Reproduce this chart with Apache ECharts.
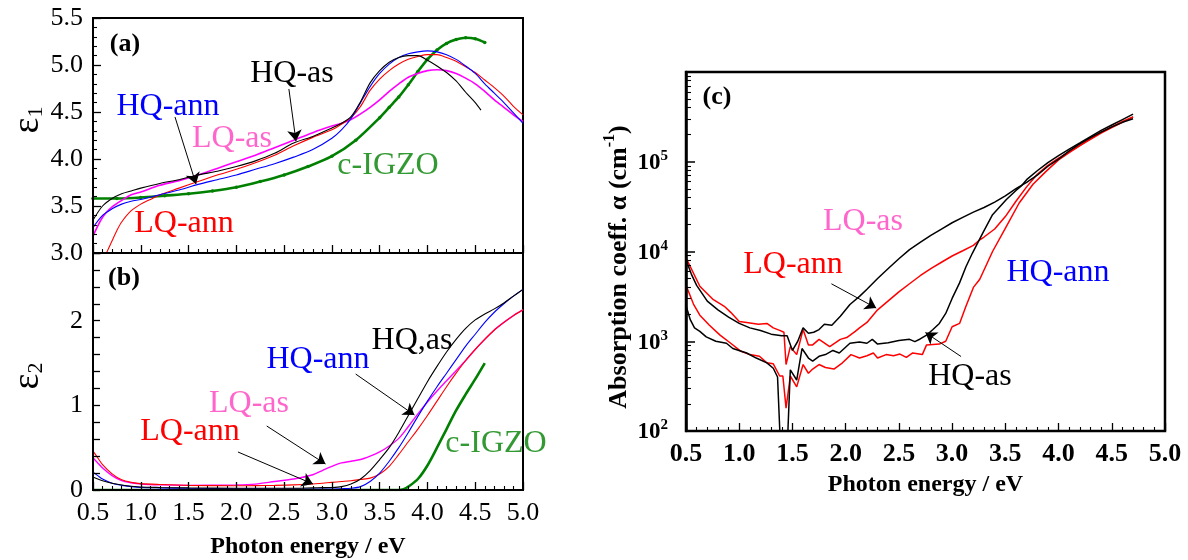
<!DOCTYPE html>
<html><head><meta charset="utf-8">
<script src="https://cdn.jsdelivr.net/npm/echarts@6/dist/echarts.min.js"></script>
<style>html,body{margin:0;padding:0;background:#fff}#c{width:1188px;height:560px}</style>
</head><body><div id="c"></div>
<script>
// ---------- Panel (a): eps1 vs photon energy ----------
const a_E = [0.5,0.6,0.7,0.8,0.9,1.0,1.2,1.4,1.6,1.8,2.0,2.2,2.4,2.6,2.8,3.0,3.1,3.2,3.3,3.4,3.5,3.6,3.7,3.8,3.9,4.0,4.1,4.2,4.3,4.4,4.5,4.6,4.7,4.8,4.9,5.0];
const a_HQas_E = [0.5,0.6,0.7,0.8,0.9,1.0,1.2,1.4,1.6,1.8,2.0,2.2,2.4,2.6,2.8,3.0,3.1,3.2,3.3,3.4,3.5,3.6,3.7,3.8,3.9,4.0,4.1,4.2,4.3,4.4,4.5,4.56];
const a_HQas = [3.35,3.50,3.58,3.63,3.66,3.69,3.74,3.78,3.83,3.87,3.92,3.98,4.06,4.17,4.24,4.33,4.38,4.45,4.61,4.81,4.94,5.03,5.08,5.10,5.10,5.05,4.99,4.92,4.83,4.71,4.60,4.52];
const a_HQann = [3.27,3.40,3.47,3.52,3.55,3.57,3.62,3.67,3.73,3.78,3.83,3.89,3.95,4.02,4.10,4.22,4.31,4.43,4.60,4.77,4.91,5.01,5.08,5.12,5.14,5.15,5.14,5.11,5.06,4.99,4.91,4.80,4.70,4.60,4.49,4.38];
const a_LQas = [3.18,3.38,3.49,3.56,3.62,3.65,3.72,3.77,3.83,3.90,3.97,4.04,4.12,4.20,4.28,4.35,4.38,4.42,4.48,4.55,4.63,4.72,4.80,4.87,4.91,4.94,4.95,4.94,4.91,4.86,4.80,4.72,4.63,4.55,4.47,4.40];
const a_LQann_E = [0.5,0.55,0.6,0.65,0.7,0.75,0.8,0.9,1.0,1.1,1.2,1.4,1.6,1.8,2.0,2.2,2.4,2.6,2.8,3.0,3.1,3.2,3.3,3.4,3.5,3.6,3.7,3.8,3.9,4.0,4.1,4.2,4.3,4.4,4.5,4.6,4.7,4.8,4.9,5.0];
const a_LQann = [2.55,2.75,2.90,3.02,3.13,3.24,3.33,3.45,3.52,3.57,3.62,3.69,3.76,3.83,3.89,3.96,4.04,4.14,4.23,4.31,4.37,4.44,4.56,4.73,4.85,4.94,5.01,5.06,5.09,5.11,5.11,5.08,5.04,4.98,4.92,4.84,4.76,4.67,4.56,4.47];
const a_IGZO_E = [0.5,0.75,1.0,1.25,1.5,1.75,2.0,2.25,2.5,2.75,3.0,3.25,3.5,3.6,3.7,3.8,3.9,4.0,4.1,4.2,4.3,4.4,4.5,4.6];
const a_IGZO = [3.58,3.58,3.59,3.61,3.63,3.66,3.70,3.76,3.83,3.92,4.03,4.20,4.44,4.55,4.66,4.79,4.93,5.06,5.16,5.23,5.27,5.29,5.28,5.24];

// ---------- Panel (b): eps2 vs photon energy ----------
const b_E = [0.5,0.55,0.6,0.7,0.8,0.9,1.0,1.2,1.5,2.0,2.2,2.4,2.6,2.8,2.9,3.0,3.1,3.2,3.3,3.4,3.5,3.6,3.7,3.8,3.9,4.0,4.1,4.2,4.3,4.4,4.5,4.6,4.7,4.8,4.9,5.0];
const b_HQas = [0.155,0.13,0.11,0.08,0.06,0.045,0.035,0.03,0.025,0.02,0.02,0.02,0.02,0.025,0.028,0.03,0.04,0.07,0.13,0.23,0.36,0.50,0.68,0.88,1.08,1.28,1.46,1.63,1.78,1.91,2.01,2.08,2.14,2.21,2.29,2.37];
const b_HQann = [0.21,0.17,0.13,0.08,0.055,0.04,0.03,0.025,0.02,0.015,0.013,0.012,0.012,0.012,0.012,0.012,0.015,0.02,0.04,0.10,0.20,0.34,0.50,0.68,0.87,1.05,1.22,1.38,1.54,1.70,1.84,1.98,2.10,2.20,2.29,2.37];
const b_LQas = [0.38,0.32,0.26,0.17,0.11,0.085,0.07,0.06,0.055,0.06,0.07,0.10,0.13,0.18,0.23,0.28,0.32,0.34,0.36,0.40,0.45,0.52,0.61,0.75,0.90,1.04,1.17,1.29,1.41,1.53,1.66,1.78,1.89,1.98,2.06,2.13];
const b_LQann = [0.46,0.38,0.30,0.19,0.12,0.09,0.075,0.065,0.055,0.05,0.052,0.055,0.06,0.07,0.08,0.09,0.10,0.11,0.125,0.14,0.19,0.28,0.42,0.57,0.72,0.88,1.05,1.22,1.38,1.53,1.66,1.78,1.89,1.98,2.06,2.13];
const b_IGZO_E = [0.5,1.5,2.5,3.5,3.7,3.75,3.8,3.9,4.0,4.1,4.2,4.3,4.4,4.5,4.6];
const b_IGZO = [0,0,0,0,0,0.01,0.04,0.13,0.29,0.50,0.72,0.94,1.13,1.31,1.50];

// ---------- Panel (c): absorption coefficient (cm^-1) ----------
const c_LQas_E = [0.5,0.55,0.6,0.7,0.8,0.9,1.0,1.1,1.2,1.3,1.4,1.45,1.5,1.55,1.6,1.65,1.7,1.75,1.8,1.87,1.95,2.04,2.13,2.2,2.3,2.4,2.5,2.6,2.7,2.8,2.9,3.0,3.1,3.2,3.3,3.4,3.5,3.6,3.7,3.8,3.9,4.0,4.1,4.2,4.3,4.4,4.5,4.6,4.7];
const c_LQas = [8100,5600,4200,2800,2240,1860,1580,1410,1320,1200,1150,1150,790,1000,1410,1230,1260,1350,1550,1510,1900,2570,3160,3800,5000,6460,8300,10500,12600,15100,17800,20900,24000,27500,30900,35500,41700,50100,58900,70800,89100,107000,132000,158000,186000,214000,245000,275000,302000];
const c_HQas_E = [0.5,0.54,0.58,0.63,0.69,0.78,0.88,0.94,1.07,1.16,1.26,1.32,1.36,1.40,1.44,1.48,1.54,1.59,1.65,1.69,1.75,1.81,1.88,1.94,2.04,2.13,2.2,2.25,2.3,2.4,2.5,2.6,2.65,2.7,2.76,2.82,2.88,2.94,3.0,3.07,3.13,3.19,3.29,3.38,3.51,3.6,3.65,3.7,3.8,3.9,4.0,4.1,4.2,4.3,4.4,4.5,4.6,4.7];
const c_HQas = [2500,1740,1410,1290,1120,1000,950,830,740,650,575,500,400,30,30,480,370,830,650,600,680,710,790,740,950,980,950,1050,930,960,1020,1050,990,1060,1170,1350,1580,2040,3000,4470,6760,9550,16200,25700,38000,47900,53700,63100,79400,97700,117000,138000,162000,191000,224000,257000,295000,339000];
const c_LQann_E = [0.5,0.63,0.75,0.86,0.92,1.0,1.07,1.18,1.26,1.32,1.38,1.42,1.44,1.48,1.54,1.60,1.65,1.69,1.75,1.85,1.95,2.01,2.09,2.13,2.2,2.3,2.4,2.5,2.6,2.7,2.8,2.9,3.0,3.1,3.2,3.26,3.3,3.4,3.5,3.6,3.7,3.8,3.9,4.0,4.1,4.2,4.3,4.4,4.5,4.6,4.7];
const c_LQann = [8500,4100,2950,2450,2100,1660,1620,1550,1580,1410,1320,1260,550,870,710,1350,910,910,1050,870,1050,1100,1290,1410,1620,2240,2820,3550,4370,5370,6460,7590,8910,10200,11700,13500,14500,17800,24500,36300,52500,72400,91200,110000,129000,151000,178000,209000,240000,275000,316000];
const c_HQann_E = [0.5,0.57,0.63,0.72,0.82,0.92,1.01,1.1,1.19,1.26,1.32,1.38,1.41,1.44,1.48,1.54,1.60,1.65,1.69,1.75,1.81,1.89,1.97,2.05,2.13,2.2,2.26,2.3,2.38,2.45,2.51,2.57,2.63,2.72,2.76,2.88,2.94,3.0,3.07,3.13,3.2,3.26,3.38,3.51,3.63,3.76,3.88,4.0,4.1,4.2,4.3,4.4,4.5,4.6,4.7];
const c_HQann = [4200,2600,1950,1510,1170,950,780,710,680,575,560,410,410,180,410,310,550,440,490,550,510,490,575,710,650,690,740,650,710,690,720,660,740,710,910,930,1000,1450,1580,2450,3980,4900,10000,19000,34700,56200,77600,105000,126000,151000,182000,214000,245000,282000,316000];

// ---------- annotations (text, data-space arrows) ----------
const textsAll = [
  ['(a)',125,44,'#000',26,'bold'],
  ['HQ-as',292,74,'#000',32,'normal'],
  ['HQ-ann',168,107,'#0000ff',32,'normal'],
  ['LQ-as',232,139,'#ff66cc',32,'normal'],
  ['c-IGZO',388,166,'#339933',32,'normal'],
  ['LQ-ann',184,224,'#ff0000',32,'normal'],
  ['(b)',124,278,'#000',26,'bold'],
  ['HQ,as',412,341,'#000',32,'normal'],
  ['HQ-ann',318,360,'#0000ff',32,'normal'],
  ['LQ-as',249,404,'#ff66cc',32,'normal'],
  ['LQ-ann',190,432,'#ff0000',32,'normal'],
  ['c-IGZO',496,444,'#339933',32,'normal'],
  ['(c)',717,97,'#000',26,'bold'],
  ['LQ-as',863,222,'#ff66cc',32,'normal'],
  ['LQ-ann',793,265,'#ff0000',32,'normal'],
  ['HQ-ann',1058,273,'#0000ff',32,'normal'],
  ['HQ-as',970,377,'#000',32,'normal']
];
const arrowsA = [[2.55,4.745,2.624,4.19],[1.358,4.447,1.578,3.734]];
const arrowsB = [[3.249,1.37,3.864,0.886],[2.318,0.756,2.933,0.307],[2.017,0.449,2.802,0.071]];
const arrowsC = [[1.866,4365,2.287,2344],[3.084,676,2.749,1250]];

// ---------- build ----------
const FONT = '"Liberation Serif","Times New Roman",serif';
const pts = (xs, ys) => xs.map((x, i) => [x, ys[i]]);
const arrowML = arr => ({
  silent: true, animation: false, symbol: ['none', 'arrow'], symbolSize: 11,
  lineStyle: { color: '#000', width: 1, type: 'solid' },
  label: { show: false },
  data: arr.map(a => [{ coord: [a[0], a[1]] }, { coord: [a[2], a[3]] }])
});

function xAxis(gi, showLabel, bold, name) {
  return {
    gridIndex: gi, type: 'value', min: 0.5, max: 5.0, interval: 0.5, z: 10,
    axisLine: { show: true, lineStyle: { color: '#000', width: 2 } },
    axisTick: { show: true, inside: true, length: 8, lineStyle: { color: '#000', width: 1.3 } },
    minorTick: { show: true, splitNumber: 5, length: 4, lineStyle: { color: '#000', width: 1.1 } },
    splitLine: { show: false }, minorSplitLine: { show: false },
    axisLabel: { show: showLabel, color: '#000', fontFamily: FONT, fontSize: 26, fontWeight: bold ? 'bold' : 'normal', margin: 10, formatter: v => v.toFixed(1) },
    name: name || '', nameLocation: 'middle', nameGap: gi === 2 ? 42 : 45,
    nameTextStyle: { color: '#000', fontFamily: FONT, fontSize: 24, fontWeight: 'bold' }
  };
}

function line(name, xi, data, color, width, smooth, z) {
  return { type: 'line', name, xAxisIndex: xi, yAxisIndex: xi, data, showSymbol: false, symbol: 'none',
    smooth: smooth ? 0.3 : false, lineStyle: { color, width }, itemStyle: { color }, z: z || 2 };
}

const series = [];
const sA_g = line('c-IGZO', 0, pts(a_IGZO_E, a_IGZO), '#008000', 2.6, true, 2);
sA_g.showSymbol = true; sA_g.symbol = 'circle'; sA_g.symbolSize = 3.5;
series.push(sA_g);
series.push(line('LQ-as', 0, pts(a_E, a_LQas), '#ff00ff', 1.6, true, 3));
series.push(line('LQ-ann', 0, pts(a_LQann_E, a_LQann), '#ff0000', 1.1, true, 4));
series.push(line('HQ-ann', 0, pts(a_E, a_HQann), '#0000ff', 1.1, true, 5));
const sA_k = line('HQ-as', 0, pts(a_HQas_E, a_HQas), '#000000', 1.1, true, 6);
sA_k.markLine = arrowML(arrowsA);
series.push(sA_k);
series.push(line('c-IGZO', 1, pts(b_IGZO_E, b_IGZO), '#008000', 2.6, true, 2));
series.push(line('LQ-as', 1, pts(b_E, b_LQas), '#ff00ff', 1.4, true, 3));
series.push(line('LQ-ann', 1, pts(b_E, b_LQann), '#ff0000', 1.1, true, 4));
series.push(line('HQ-ann', 1, pts(b_E, b_HQann), '#0000ff', 1.1, true, 5));
const sB_k = line('HQ-as', 1, pts(b_E, b_HQas), '#000000', 1.1, true, 6);
sB_k.markLine = arrowML(arrowsB);
series.push(sB_k);
series.push(line('LQ-ann', 2, pts(c_LQann_E, c_LQann), '#ff0000', 1.5, false, 3));
series.push(line('HQ-ann', 2, pts(c_HQann_E, c_HQann), '#ff0000', 1.5, false, 3));
series.push(line('LQ-as', 2, pts(c_LQas_E, c_LQas), '#000000', 1.5, false, 4));
const sC_k = line('HQ-as', 2, pts(c_HQas_E, c_HQas), '#000000', 1.5, false, 4);
sC_k.markLine = arrowML(arrowsC);
series.push(sC_k);

const graphic = textsAll.map(t => ({
  type: 'text', x: t[1], y: t[2], z: 100, silent: true,
  style: { text: t[0], fill: t[3], font: t[5] + ' ' + t[4] + 'px ' + FONT, textAlign: 'center', textVerticalAlign: 'middle' }
}));
const epsRich = { e: { fontFamily: FONT, fontSize: 38, fill: '#000', verticalAlign: 'middle' }, s: { fontFamily: FONT, fontSize: 22, fill: '#000', verticalAlign: 'bottom' } };
graphic.push({ type: 'text', x: 28, y: 120, rotation: Math.PI / 2, z: 100, silent: true,
  style: { text: '{e|ε}{s|1}', textAlign: 'center', textVerticalAlign: 'middle', rich: epsRich } });
graphic.push({ type: 'text', x: 28, y: 376, rotation: Math.PI / 2, z: 100, silent: true,
  style: { text: '{e|ε}{s|2}', textAlign: 'center', textVerticalAlign: 'middle', rich: epsRich } });
graphic.push({ type: 'text', x: 617, y: 267, rotation: Math.PI / 2, z: 100, silent: true,
  style: { text: '{t|Absorption coeff. α (cm}{s|-1}{t|)}', textAlign: 'center', textVerticalAlign: 'middle',
    rich: { t: { fontFamily: FONT, fontSize: 26, fontWeight: 'bold', fill: '#000', verticalAlign: 'bottom', lineHeight: 30 }, s: { fontFamily: FONT, fontSize: 16, fontWeight: 'bold', fill: '#000', verticalAlign: 'top' } } } });

const chart = echarts.init(document.getElementById('c'));
chart.setOption({
  animation: false,
  grid: [
    { left: 93, top: 18, width: 430, height: 235, show: true, borderColor: '#000', borderWidth: 2 },
    { left: 93, top: 253, width: 430, height: 237, show: true, borderColor: '#000', borderWidth: 2 },
    { left: 686, top: 72, width: 479, height: 359, show: true, borderColor: '#000', borderWidth: 2.5 }
  ],
  xAxis: [xAxis(0, false, false), xAxis(1, true, false, 'Photon energy / eV'), xAxis(2, true, true, 'Photon energy / eV')],
  yAxis: [
    { gridIndex: 0, type: 'value', min: 3.0, max: 5.5, interval: 0.5, z: 10,
      axisLine: { show: true, lineStyle: { color: '#000', width: 2 } },
      axisTick: { show: true, inside: true, length: 8, lineStyle: { color: '#000', width: 1.3 } },
      minorTick: { show: true, splitNumber: 5, length: 4, lineStyle: { color: '#000', width: 1.1 } },
      splitLine: { show: false }, minorSplitLine: { show: false },
      axisLabel: { color: '#000', fontFamily: FONT, fontSize: 26, margin: 10, formatter: v => v.toFixed(1) } },
    { gridIndex: 1, type: 'value', min: 0, max: 2.8, interval: 0.2, z: 10,
      axisLine: { show: true, lineStyle: { color: '#000', width: 2 } },
      axisTick: { show: true, inside: true, length: 7, lineStyle: { color: '#000', width: 1.3 } },
      splitLine: { show: false },
      axisLabel: { color: '#000', fontFamily: FONT, fontSize: 26, margin: 10, interval: 0,
        formatter: v => (Math.abs(v - Math.round(v)) < 1e-6 && v < 2.5) ? String(Math.round(v)) : '' } },
    { gridIndex: 2, type: 'log', logBase: 10, min: 100, max: 1000000, z: 10,
      axisLine: { show: true, lineStyle: { color: '#000', width: 2.5 } },
      axisTick: { show: true, inside: true, length: 9, lineStyle: { color: '#000', width: 1.5 } },
      minorTick: { show: true, splitNumber: 9, length: 5, lineStyle: { color: '#000', width: 1.1 } },
      splitLine: { show: false }, minorSplitLine: { show: false },
      axisLabel: { color: '#000', margin: 18,
        formatter: v => { const e = Math.round(Math.log10(v)); return e >= 6 ? '' : '{b|10}{s|' + e + '}'; },
        rich: { b: { fontFamily: FONT, fontSize: 23, fontWeight: 'bold', color: '#000', lineHeight: 26, verticalAlign: 'bottom' },
                s: { fontFamily: FONT, fontSize: 15, fontWeight: 'bold', color: '#000', verticalAlign: 'top' } } } }
  ],
  series,
  graphic
});
</script>
</body></html>
